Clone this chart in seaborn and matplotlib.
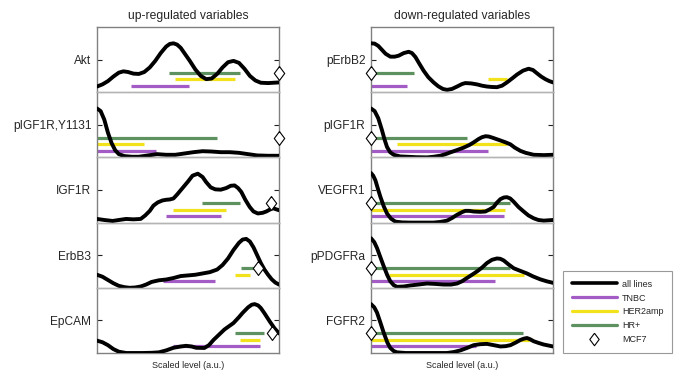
import matplotlib
matplotlib.use("Agg")
import matplotlib.pyplot as plt
import seaborn as sns
import numpy as np
import pandas as pd
from matplotlib.lines import Line2D

# ---------------- data ----------------
up_names = ["Akt", "pIGF1R,Y1131", "IGF1R", "ErbB3", "EpCAM"]
down_names = ["pErbB2", "pIGF1R", "VEGFR1", "pPDGFRa", "FGFR2"]

# density curves (scaled level 0..1, relative density 0..1)
akt_x = [0, .03, .06, .09, .12, .145, .17, .20, .23, .26, .29, .32, .35, .38, .40, .42, .44, .46, .48, .51, .54, .57, .60, .63, .66, .69, .72, .75, .78, .81, .84, .87, .90, .94, 1.0]
akt_y = [.087, .12, .17, .24, .30, .32, .31, .285, .28, .31, .38, .48, .60, .70, .74, .75, .73, .68, .60, .48, .35, .25, .20, .21, .28, .38, .46, .48, .45, .36, .25, .18, .145, .14, .15]

pigf1ry_x = [0, .02, .04, .06, .08, .10, .12, .15, .19, .23, .28, .33, .38, .43, .48, .53, .58, .63, .68, .73, .78, .83, .88, .94, 1.0]
pigf1ry_y = [.75, .71, .58, .38, .22, .11, .05, .02, .01, .01, .03, .05, .04, .04, .06, .08, .095, .09, .08, .08, .07, .05, .03, .025, .025]

igf1r_x = [0, .04, .086, .12, .16, .20, .24, .265, .29, .31, .334, .36, .38, .40, .42, .44, .47, .50, .525, .554, .58, .60, .625, .65, .68, .71, .735, .756, .775, .793, .815, .839, .86, .884, .91, .93, .95, .967, 1.0]
igf1r_y = [.056, .04, .025, .04, .056, .05, .056, .11, .18, .26, .31, .34, .35, .355, .37, .43, .53, .63, .72, .75, .70, .62, .54, .51, .505, .53, .565, .57, .53, .47, .35, .24, .17, .14, .15, .17, .20, .22, .19]

erbb3_x = [0, .03, .06, .09, .12, .15, .18, .21, .24, .27, .30, .34, .38, .42, .46, .50, .54, .58, .62, .66, .69, .72, .75, .78, .80, .82, .84, .86, .88, .90, .92, .94, .96, .98, 1.0]
erbb3_y = [.20, .17, .12, .07, .03, .01, .0, .005, .02, .05, .09, .115, .127, .15, .18, .19, .20, .22, .24, .28, .35, .45, .58, .69, .74, .75, .71, .62, .50, .38, .28, .20, .13, .08, .05]

epcam_x = [0, .03, .06, .09, .12, .16, .20, .25, .30, .34, .38, .42, .46, .49, .52, .545, .59, .615, .64, .67, .70, .73, .75, .78, .80, .83, .85, .866, .885, .90, .92, .95, .975, 1.0]
epcam_y = [.19, .165, .12, .06, .02, 0, 0, 0, .003, .01, .04, .08, .10, .11, .10, .08, .077, .12, .20, .28, .36, .42, .46, .55, .615, .70, .74, .75, .73, .69, .61, .48, .38, .30]

perbb2_x = [0, .02, .04, .06, .08, .106, .13, .152, .18, .207, .225, .244, .265, .289, .315, .344, .37, .395, .418, .445, .473, .50, .518, .55, .582, .61, .637, .665, .692, .72, .747, .775, .802, .835, .866, .89, .912, .935, .958, .98, 1.0]
perbb2_y = [.75, .745, .71, .65, .59, .545, .545, .56, .60, .62, .60, .54, .44, .33, .23, .15, .09, .05, .036, .05, .087, .125, .14, .135, .12, .10, .087, .08, .077, .10, .15, .21, .27, .33, .36, .34, .29, .24, .20, .17, .15]

pigf1r_x = [0, .02, .04, .06, .075, .088, .105, .125, .16, .198, .25, .308, .345, .381, .41, .436, .47, .509, .54, .564, .59, .61, .63, .647, .67, .69, .711, .74, .766, .79, .821, .85, .894, .95, 1.0]
pigf1r_y = [.75, .71, .60, .42, .27, .16, .08, .04, .015, .01, .003, .0, .01, .026, .05, .077, .11, .15, .19, .23, .28, .31, .325, .32, .30, .28, .26, .23, .20, .15, .10, .07, .04, .035, .04]

vegfr1_x = [0, .012, .024, .04, .051, .07, .088, .11, .134, .17, .216, .28, .344, .38, .418, .445, .473, .50, .518, .54, .564, .60, .628, .65, .674, .69, .711, .73, .747, .765, .784, .81, .839, .865, .894, .92, .949, 1.0]
vegfr1_y = [.76, .72, .65, .50, .40, .25, .14, .06, .015, .003, 0, 0, 0, .01, .03, .07, .12, .16, .18, .18, .17, .165, .17, .20, .24, .30, .36, .385, .39, .37, .32, .24, .17, .11, .066, .04, .03, .04]

ppdgfra_x = [0, .018, .033, .05, .07, .09, .106, .125, .143, .18, .216, .26, .308, .35, .399, .44, .473, .50, .527, .555, .582, .61, .637, .665, .692, .71, .729, .755, .784, .82, .857, .89, .93, .965, 1.0]
ppdgfra_y = [.76, .70, .61, .48, .33, .19, .10, .04, .015, .02, .036, .05, .066, .06, .05, .05, .066, .10, .15, .20, .25, .31, .38, .43, .45, .445, .42, .36, .30, .26, .22, .175, .13, .10, .076]

fgfr2_x = [0, .018, .033, .05, .07, .09, .106, .125, .143, .19, .253, .33, .418, .455, .491, .53, .564, .60, .637, .675, .711, .74, .766, .795, .821, .84, .857, .875, .894, .92, .949, .975, 1.0]
fgfr2_y = [.75, .70, .62, .48, .31, .16, .077, .03, .01, .0, 0, 0, 0, .015, .04, .08, .12, .135, .14, .12, .10, .105, .12, .16, .20, .22, .23, .21, .18, .155, .13, .115, .10]

up_curves = [(akt_x, akt_y), (pigf1ry_x, pigf1ry_y), (igf1r_x, igf1r_y), (erbb3_x, erbb3_y), (epcam_x, epcam_y)]
down_curves = [(perbb2_x, perbb2_y), (pigf1r_x, pigf1r_y), (vegfr1_x, vegfr1_y), (ppdgfra_x, ppdgfra_y), (fgfr2_x, fgfr2_y)]

# subtype ranges (start, end) per variable
up_tnbc = [(0.187, 0.508), (0.0, 0.325), (0.38, 0.683), (0.36, 0.65), (0.42, 0.894)]
up_her2 = [(0.426, 0.76), (0.0, 0.26), (0.42, 0.71), (0.76, 0.84), (0.787, 0.897)]
up_hr = [(0.394, 0.787), (0.0, 0.66), (0.576, 0.787), (0.79, 0.884), (0.76, 0.916)]
up_mcf7 = [1.0, 1.0, 0.958, 0.884, 0.963]

down_tnbc = [(0.0, 0.198), (0.0, 0.643), (0.0, 0.729), (0.0, 0.68), (0.0, 0.575)]
down_her2 = [(0.645, 0.747), (0.143, 0.747), (0.0, 0.734), (0.097, 0.839), (0.0, 0.875)]
down_hr = [(0.0, 0.238), (0.0, 0.527), (0.0, 0.762), (0.0, 0.766), (0.0, 0.835)]
down_mcf7 = [0.0, 0.0, 0.0, 0.0, 0.0]

# ---------------- style ----------------
sns.set_style("white")
plt.rcParams['font.family'] = ['Liberation Sans', 'DejaVu Sans']

C_TNBC = "#A35BC6"
C_HER2 = "#F2E21B"
C_HR = "#5E9160"
FRAME = "#808080"
SEP = "#b4b4b4"
DIAMOND = [(0, 1), (0.75, 0), (0, -1), (-0.75, 0), (0, 1)]

W, H = 700, 385
fig = plt.figure(figsize=(W / 100, H / 100), dpi=100)

col_left = [97, 371]
col_w = 182
top_px, bot_px = 27, 353
row_h = (bot_px - top_px) / 5


def draw_column(x0, names, curves, tnbc, her2, hr, mcf7, title):
    axes = []
    for i, name in enumerate(names):
        y_top = top_px + i * row_h
        ax = fig.add_axes([x0 / W, 1 - (y_top + row_h) / H, col_w / W, row_h / H])
        cx, cy = curves[i]
        df = pd.DataFrame({"x": cx, "y": cy})
        ax.hlines(0.3, hr[i][0], hr[i][1], color=C_HR, lw=2.3, zorder=2)
        ax.hlines(0.2, her2[i][0], her2[i][1], color=C_HER2, lw=2.3, zorder=2)
        ax.hlines(0.1, tnbc[i][0], tnbc[i][1], color=C_TNBC, lw=2.3, zorder=2)
        sns.lineplot(data=df, x="x", y="y", ax=ax, color="black", lw=2.8,
                     zorder=3, sort=False, estimator=None,
                     solid_joinstyle="round", solid_capstyle="round")
        ax.plot([mcf7[i]], [0.3], marker=DIAMOND, ms=10, mfc="white", mec="black",
                mew=0.8, ls="none", clip_on=False, zorder=5)
        ax.set_xlim(0, 1)
        ax.set_ylim(0, 1)
        ax.set_xticks([])
        ax.set_yticks([0.5])
        ax.set_yticklabels([name])
        ax.tick_params(axis="y", direction="in", length=3.5, width=0.8,
                       left=True, right=True, labelsize=8.6, pad=4, color="#222222")
        ax.set_xlabel("")
        ax.set_ylabel("")
        for s in ["left", "right"]:
            ax.spines[s].set_color(FRAME)
            ax.spines[s].set_linewidth(1.0)
        ax.spines["top"].set_color(FRAME if i == 0 else SEP)
        ax.spines["bottom"].set_color(FRAME if i == len(names) - 1 else SEP)
        ax.spines["top"].set_linewidth(1.0)
        ax.spines["bottom"].set_linewidth(1.0)
        ax.patch.set_alpha(0)
        axes.append(ax)
    axes[0].set_title(title, fontsize=8.7, pad=6)
    axes[-1].set_xlabel("Scaled level (a.u.)", fontsize=6.5, labelpad=6)
    return axes


draw_column(col_left[0], up_names, up_curves, up_tnbc, up_her2, up_hr, up_mcf7,
            "up-regulated variables")
draw_column(col_left[1], down_names, down_curves, down_tnbc, down_her2, down_hr, down_mcf7,
            "down-regulated variables")

handles = [
    Line2D([], [], color="black", lw=2.6),
    Line2D([], [], color=C_TNBC, lw=2.3),
    Line2D([], [], color=C_HER2, lw=2.3),
    Line2D([], [], color=C_HR, lw=2.3),
    Line2D([], [], marker=DIAMOND, ms=9, mfc="white", mec="black", mew=0.8, ls="none"),
]
labels = ["all lines", "TNBC", "HER2amp", "HR+", "MCF7"]
leg = fig.legend(handles, labels, loc="lower left",
                 bbox_to_anchor=(563 / W, 1 - 353 / H), fontsize=6.5,
                 handlelength=5.0, labelspacing=0.55, handletextpad=0.6,
                 borderpad=0.95, borderaxespad=0, fancybox=False, frameon=True)
leg.get_frame().set_edgecolor(FRAME)
leg.get_frame().set_linewidth(0.8)

fig.savefig("out.png", dpi=100)
